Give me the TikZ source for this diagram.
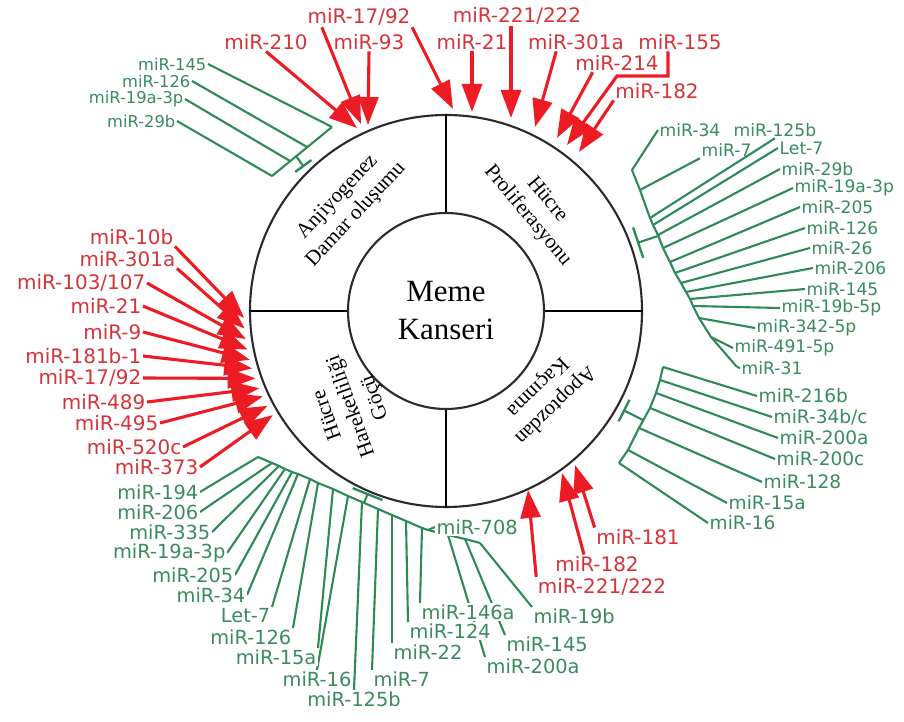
\documentclass[tikz,border=0pt]{standalone}
\usepackage{fontspec}
\setmainfont{Liberation Serif}
\setsansfont{DejaVu Sans}
\usetikzlibrary{arrows.meta,calc,backgrounds}
\definecolor{ink}{HTML}{2B2B2B}
\definecolor{arrred}{HTML}{ED1C24}
\definecolor{labred}{HTML}{D5343B}
\definecolor{lingreen}{HTML}{2E8B57}
\definecolor{labgreen}{HTML}{3A8C5D}

\begin{document}
\begin{tikzpicture}[x=0.25mm,y=-0.25mm,font=\sffamily,
  rlab/.style={text=labred,font=\sffamily\fontsize{14.2}{16}\selectfont,inner sep=1pt},
  glab/.style={text=labgreen,font=\sffamily\fontsize{#1}{#1}\selectfont,inner sep=1pt},
  gbot/.style={glab=13.8,fill=white},
  rarr/.style={draw=arrred,line width=2.2pt,-{Triangle[length=7mm,width=5mm]}},
  gline/.style={draw=lingreen,line width=1.5pt},
  inhib/.style={gline,-{Bar[width=#1,line width=1.7pt]}},
  quad/.style={font=\rmfamily\fontsize{15}{18}\selectfont,align=center,inner sep=0pt}]
  \useasboundingbox (0,0) rectangle (904,722);
  \scoped[on background layer] \fill[white] (0,0) rectangle (904,722);

  \coordinate (c) at (446,311);
  \node[circle,draw=ink,line width=1.5pt,minimum size=98mm,inner sep=0pt] (ring) at (c) {};
  \node[circle,draw=ink,line width=1.5pt,minimum size=49mm,inner sep=0pt,align=center,
        font=\rmfamily\fontsize{22}{27}\selectfont] (core) at (c) {Meme\\Kanseri};
  \foreach \d in {north,east,south,west}
    \draw[black,line width=1.8pt] (core.\d) -- (ring.\d);
  \node[quad,rotate=47] (angio) at (347,206) {Anjiyogenez\\Damar oluşumu};
  \node[quad,rotate=-50] (prolif) at (537,208) {Hücre\\Proliferasyonu};
  \node[quad,rotate=-136] (apop) at (546,396) {Apoptozdan\\Kaçınma};
  \node[quad,rotate=110] (migr) at (352,406) {Hücre\\Hareketliliği\\Göçü};

  % top red arrows
  \node[rlab] (r210) at (266,42) {miR-210};
  \node[rlab] (r1792) at (359,17) {miR-17/92};
  \node[rlab] (r93) at (369,42) {miR-93};
  \node[rlab] (r21) at (472,42) {miR-21};
  \node[rlab] (r221) at (517,16) {miR-221/222};
  \node[rlab] (r301) at (576,42) {miR-301a};
  \node[rlab] (r155) at (680,42) {miR-155};
  \node[rlab] (r214) at (617,63) {miR-214};
  \node[rlab] (r182) at (657,91) {miR-182};
  \coordinate (t210) at (357,128);
  \coordinate (t1792a) at (361,124);
  \coordinate (t93) at (368,125);
  \coordinate (t1792b) at (453,109);
  \coordinate (t21) at (472,112);
  \coordinate (t221) at (511,118);
  \coordinate (t301) at (535,127);
  \coordinate (t214) at (557,138);
  \coordinate (t155) at (567,145);
  \coordinate (t182) at (579,152);
  \coordinate (k155a) at (668,76);
  \coordinate (k155b) at (617,76);
  \begin{scope}[on background layer]
    \draw[rarr] (r210.south) -- (t210);
    \draw[rarr] ($(r1792.south west)!.15!(r1792.south east)$) -- (t1792a);
    \draw[rarr] (r1792.south east) -- (t1792b);
    \draw[rarr] (r93.south) -- (t93);
    \draw[rarr] (r21.south) -- (t21);
    \draw[rarr] (r221.south -| t221) -- (t221);
    \draw[rarr] ($(r301.south west)!.3!(r301.south east)$) -- (t301);
    \draw[rarr] ($(r214.south west)!.22!(r214.south east)$) -- (t214);
    \draw[rarr] (r155.south -| k155a) -- (k155a) -- (k155b) -- (t155);
    \draw[rarr] (r182.south west) -- (t182);
  \end{scope}

  % left red arrows
  \foreach \t/\x/\y/\a/\g [count=\i] in {miR-10b/175/237/south east/182,miR-301a/177/259/south east/185,
      {miR-103/107}/147/283/east/188,miR-21/143/306/east/191,miR-9/143/332/east/194,
      miR-181b-1/143/356/east/196.5,{miR-17/92}/143/378/east/199.5,miR-489/147/402/east/202.5,
      miR-495/160/423/east/205,miR-520c/183/447/east/208,miR-373/200/467/east/211}{
    \node[rlab,anchor=east] (ml\i) at (\x,\y) {\t};
    \coordinate (mt\i) at ($(c)+(-\g:202)$);
    \scoped[on background layer] \draw[rarr] (ml\i.\a) -- (mt\i);
  }

  % bottom red arrows
  \node[rlab] (r181b) at (638,537) {miR-181};
  \node[rlab] (r182b) at (597,564) {miR-182};
  \node[rlab] (r221b) at (602,587) {miR-221/222};
  \coordinate (u181) at (575,465);
  \coordinate (u182) at (562,473);
  \coordinate (u221) at (528,490);
  \begin{scope}[on background layer]
    \draw[rarr] (r181b.north west) -- (u181);
    \draw[rarr] ($(r182b.north west)!.35!(r182b.north east)$) -- (u182);
    \draw[rarr] (r221b.north west) -- (u221);
  \end{scope}

  % top left green group
  \foreach \t/\x/\y/\sx/\sy [count=\i] in {miR-145/208/64/332/127,miR-126/192/81/307/147,
      miR-19a-3p/185/99/290/161,miR-29b/177/121/272/176}{
    \node[glab=11.6,anchor=east] (al\i) at (\x,\y) {\t};
    \coordinate (as\i) at (\sx,\sy);
    \scoped[on background layer] \draw[gline] (al\i.east) -- (as\i);
  }
  \coordinate (ia1) at (296,156);
  \coordinate (ib1) at (304,167);

  % right green group
  \foreach \t/\x/\y/\a/\sx/\sy [count=\i] in {miR-34/658/130/west/632/170,miR-7/700/150/south west/640/190,
      miR-125b/732/130/south/650/218,Let-7/778/148/west/653/225,miR-29b/780/169/west/658/235,
      miR-19a-3p/793/188/west/663/248,miR-205/800/207/west/670/262,miR-126/805/228/west/675/273,
      miR-26/810/248/west/681/283,miR-206/813/268/west/686/292,miR-145/805/289/west/690/299,
      miR-19b-5p/780/308/west/693/306,miR-342-5p/755/328/west/699/318,miR-491-5p/733/348/west/711/337,
      miR-31/740/368/west/737/367}{
    \node[glab=12.2,anchor=west] (gl\i) at (\x,\y) {\t};
    \coordinate (gs\i) at (\sx,\sy);
    \scoped[on background layer] \draw[gline] (gl\i.\a) -- (gs\i);
  }
  \coordinate (ia2) at (658,236);
  \coordinate (ib2) at (637,243);

  % lower right green group
  \foreach \t/\x/\y/\sx/\sy [count=\i] in {miR-216b/757/396/663/367,{miR-34b/c}/772/417/660/380,
      miR-200a/778/438/656/393,miR-200c/775/459/650/408,miR-128/762/482/639/428,
      miR-15a/727/503/628/450,miR-16/708/523/619/463}{
    \node[glab=13.2,anchor=west] (cl\i) at (\x,\y) {\t};
    \coordinate (cs\i) at (\sx,\sy);
    \scoped[on background layer] \draw[gline] (cl\i.west) -- (cs\i);
  }
  \coordinate (ia3) at (643,420);
  \coordinate (ib3) at (623,410);

  % bottom green group
  \foreach \t/\a/\x/\y/\sx/\sy [count=\i] in {miR-194/east/200/492/258/457,miR-206/east/200/512/272/463,
      miR-335/east/212/532/279/466,miR-19a-3p/east/227/553/285/469,miR-205/east/235/575/292/472,
      miR-34/east/247/595/298/474,Let-7/north east/272/607/310/479,miR-126/north east/293/628/318/483,
      miR-15a/north east/318/648/333/489,miR-16/north/317/670/348/496,miR-125b/north/354/690/362/502,
      miR-7/north west/372/670/378/509,miR-22/north west/392/643/392/515,miR-124/north west/408/622/406/521,
      miR-146a/north west/420/603/422/528,miR-708/west/435/527/428/530,miR-200a/north west/485/657/448/535,
      miR-145/north west/505/635/465/539,miR-19b/north west/532/607/480/543}{
    \node[gbot,anchor=\a] (dl\i) at (\x,\y) {\t};
    \coordinate (ds\i) at (\sx,\sy);
    \scoped[on background layer] \draw[gline] (dl\i.\a) -- (ds\i);
  }
  \coordinate (ia4) at (364,503);
  \coordinate (ib4) at (368,493);

  \begin{scope}[on background layer]
    \draw[gline] (as1) -- (as4);
    \draw[gline] (gs1) \foreach \i in {2,...,15}{-- (gs\i)};
    \draw[gline] (cs1) \foreach \i in {2,...,7}{-- (cs\i)};
    \draw[gline] (ds1) \foreach \i in {2,...,19}{-- (ds\i)};
    \draw[inhib=5mm] (ia1) -- (ib1);
    \draw[inhib=8mm] (ia2) -- (ib2);
    \draw[inhib=6mm] (ia3) -- (ib3);
    \draw[inhib=8mm] (ia4) -- (ib4);
  \end{scope}
\end{tikzpicture}
\end{document}
